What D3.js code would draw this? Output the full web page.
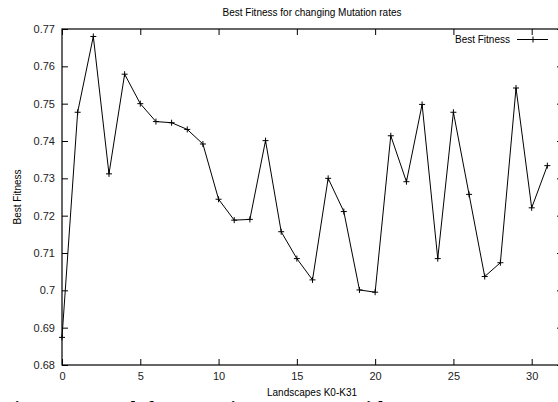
<!DOCTYPE html>
<html>
<head>
<meta charset="utf-8">
<script src="https://cdn.jsdelivr.net/npm/d3@7"></script>
<style>
body { margin: 0; background: #fff; }
svg { display: block; font-family: "Liberation Sans", Arial, sans-serif; }
</style>
</head>
<body>
<div id="chart"></div>
<script>
var width = 558;
var height = 402;

// Best fitness per landscape K0-K31
var landscapes = d3.range(0, 32);
var bestFitness = [0.6874, 0.7477, 0.7680, 0.7312, 0.7579, 0.7500, 0.7452, 0.7449,
    0.7431, 0.7392, 0.7244, 0.7188, 0.7190, 0.7401, 0.7157, 0.7085,
    0.7028, 0.7300, 0.7211, 0.7001, 0.6995, 0.7414, 0.7291, 0.7498,
    0.7085, 0.7477, 0.7257, 0.7037, 0.7074, 0.7542, 0.7221, 0.7334];
var xTicks = [0, 5, 10, 15, 20, 25, 30];
var yTicks = [0.68, 0.69, 0.70, 0.71, 0.72, 0.73, 0.74, 0.75, 0.76, 0.77];

var marginLeft = 62;
var marginTop = 29;
var plotRight = 563;
var plotBottom = 365;

var svg = d3.select("#chart").append("svg")
    .attr("width", width)
    .attr("height", height);

var x = d3.scaleLinear().domain([0, 32]).range([marginLeft, plotRight]);
var y = d3.scaleLinear().domain([0.68, 0.77]).range([plotBottom, marginTop]);

// frame
svg.append("rect")
    .attr("x", marginLeft)
    .attr("y", marginTop)
    .attr("width", plotRight - marginLeft)
    .attr("height", plotBottom - marginTop)
    .attr("fill", "none")
    .attr("stroke", "#000")
    .attr("stroke-width", 1.2);

var tickLen = 6;

// axes with inward ticks
var xAxis = d3.axisBottom(x).tickValues(xTicks).tickSize(-tickLen).tickPadding(7)
    .tickFormat(d3.format("d"));
var gx = svg.append("g").attr("transform", "translate(0," + plotBottom + ")").call(xAxis);
var gxTop = svg.append("g").attr("transform", "translate(0," + marginTop + ")")
    .call(d3.axisTop(x).tickValues(xTicks).tickSize(-tickLen).tickFormat(""));

var yAxis = d3.axisLeft(y).tickValues(yTicks).tickSize(-tickLen).tickPadding(7)
    .tickFormat(function (d) { return d3.format("")(+d.toFixed(2)); });
var gy = svg.append("g").attr("transform", "translate(" + marginLeft + ",0)").call(yAxis);
var gyRight = svg.append("g").attr("transform", "translate(" + plotRight + ",0)")
    .call(d3.axisRight(y).tickValues(yTicks).tickSize(-tickLen).tickFormat(""));

[gx, gxTop, gy, gyRight].forEach(function (g) {
    g.select(".domain").remove();
    g.selectAll(".tick line").attr("stroke", "#000");
    g.selectAll("text").attr("font-size", 11).attr("fill", "#222")
        .attr("font-family", "Liberation Sans, Arial, sans-serif");
});

// data line
var line = d3.line()
    .x(function (d, i) { return x(landscapes[i]); })
    .y(function (d) { return y(d); });

svg.append("path")
    .datum(bestFitness)
    .attr("d", line)
    .attr("fill", "none")
    .attr("stroke", "#000")
    .attr("stroke-width", 1);

var m = 3;
svg.selectAll("path.pt").data(bestFitness).enter().append("path")
    .attr("class", "pt")
    .attr("d", function (d, i) {
        var px = x(landscapes[i]), py = y(d);
        return "M" + (px - m) + "," + py + "H" + (px + m) + "M" + px + "," + (py - m) + "V" + (py + m);
    })
    .attr("stroke", "#000")
    .attr("stroke-width", 1);

// title and labels
svg.append("text")
    .attr("x", 312).attr("y", 16)
    .attr("text-anchor", "middle")
    .attr("font-size", 10)
    .text("Best Fitness for changing Mutation rates");

svg.append("text")
    .attr("transform", "translate(21,197) rotate(-90)")
    .attr("text-anchor", "middle")
    .attr("font-size", 10)
    .text("Best Fitness");

svg.append("text")
    .attr("x", 312).attr("y", 396)
    .attr("text-anchor", "middle")
    .attr("font-size", 10)
    .text("Landscapes K0-K31");

// legend
svg.append("text")
    .attr("x", 510).attr("y", 43)
    .attr("text-anchor", "end")
    .attr("font-size", 10)
    .text("Best Fitness");
svg.append("line")
    .attr("x1", 517).attr("x2", 548).attr("y1", 39.5).attr("y2", 39.5)
    .attr("stroke", "#000");
svg.append("path")
    .attr("d", "M" + (533 - m) + ",39.5H" + (533 + m) + "M533," + (39.5 - m) + "V" + (39.5 + m))
    .attr("stroke", "#000");

// caption below, cut off by the page edge
svg.append("text")
    .attr("x", 2).attr("y", 416)
    .attr("font-family", "Liberation Serif, Times New Roman, serif")
    .attr("font-weight", "bold")
    .attr("font-size", 20)
    .text("Figure 6: Graph for Mutation rate 0.001 with K");
</script>
</body>
</html>
